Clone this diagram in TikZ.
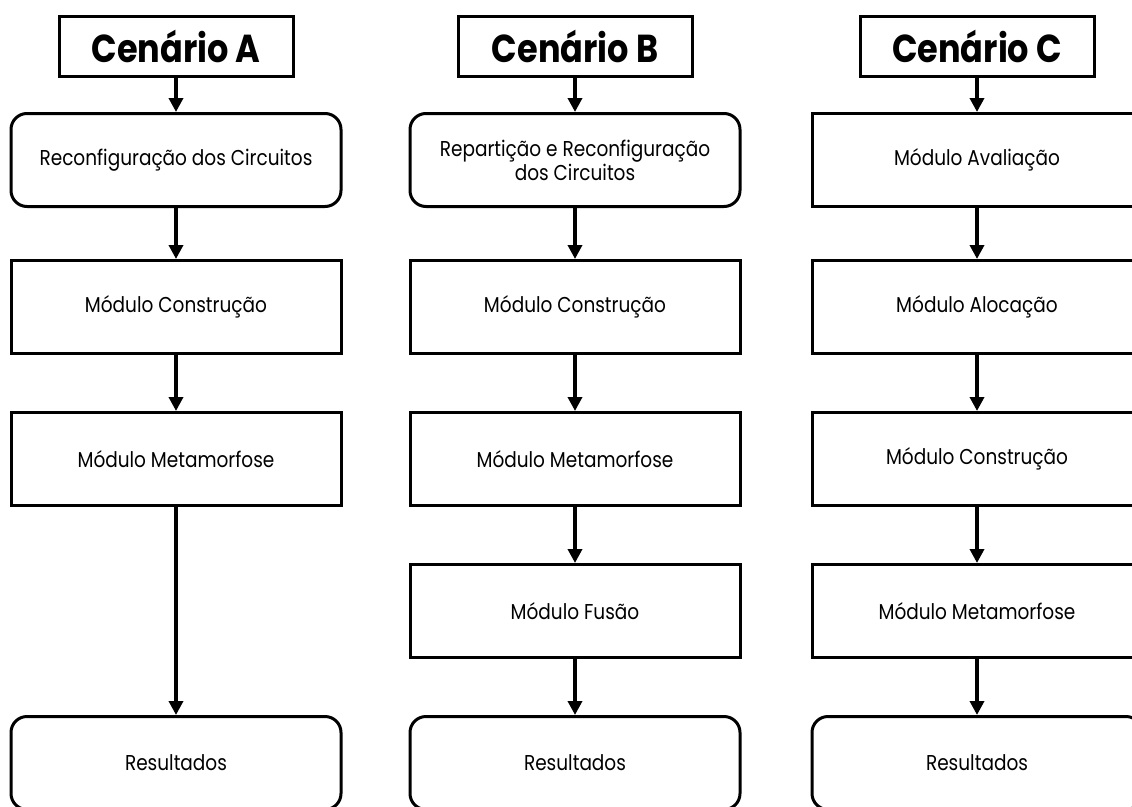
\documentclass[tikz,border=0pt]{standalone}
\usepackage{fontspec}
\setmainfont{Poppins}[FakeStretch=0.86]
\usetikzlibrary{positioning, arrows.meta}

\begin{document}
\begin{tikzpicture}[x=1pt, y=1pt, line width=3pt, node distance=56pt,
  cenario/.style={draw, minimum width=234pt, minimum height=60pt, inner sep=0pt,
    font=\fontsize{39}{44}\selectfont\bfseries},
  modulo/.style={draw, minimum width=330pt, minimum height=93pt, inner sep=0pt,
    align=center, font=\fontsize{21.5}{24}\selectfont},
  etapa/.style={modulo, rounded corners=16pt},
  seta/.style={-{Triangle[length=14pt, width=14pt]}, line width=4.5pt}]
  \useasboundingbox[fill=white] (0,0) rectangle (1132,-806);
  \clip (0,0) rectangle (1132,-806);

  % Cenario A
  \node[cenario] (titA) at (176,-46.5) {Cenário A};
  \node[etapa, below=34pt of titA] (reconfA) {Reconfiguração dos Circuitos};
  \node[modulo, below=51pt of reconfA] (constrA) {Módulo Construção};
  \node[modulo, below=of constrA] (metaA) {Módulo Metamorfose};
  \node[etapa, below=208pt of metaA] (resA) {Resultados};
  \draw[seta] (titA) -- (reconfA);
  \draw[seta] (reconfA) -- (constrA);
  \draw[seta] (constrA) -- (metaA);
  \draw[seta] (metaA) -- (resA);

  % Cenario B
  \node[cenario] (titB) at (575,-46.5) {Cenário B};
  \node[etapa, below=34pt of titB] (reconfB) {Repartição e Reconfiguração\\dos Circuitos};
  \node[modulo, below=51pt of reconfB] (constrB) {Módulo Construção};
  \node[modulo, below=of constrB] (metaB) {Módulo Metamorfose};
  \node[modulo, below=of metaB] (fusaoB) {Módulo Fusão};
  \node[etapa, below=of fusaoB] (resB) {Resultados};
  \draw[seta] (titB) -- (reconfB);
  \draw[seta] (reconfB) -- (constrB);
  \draw[seta] (constrB) -- (metaB);
  \draw[seta] (metaB) -- (fusaoB);
  \draw[seta] (fusaoB) -- (resB);

  % Cenario C
  \node[cenario] (titC) at (977,-46.5) {Cenário C};
  \node[modulo, below=34pt of titC] (avalC) {Módulo Avaliação};
  \node[modulo, below=51pt of avalC] (alocC) {Módulo Alocação};
  \node[modulo, below=of alocC] (constrC) {Módulo Construção};
  \node[modulo, below=of constrC] (metaC) {Módulo Metamorfose};
  \node[etapa, below=of metaC] (resC) {Resultados};
  \draw[seta] (titC) -- (avalC);
  \draw[seta] (avalC) -- (alocC);
  \draw[seta] (alocC) -- (constrC);
  \draw[seta] (constrC) -- (metaC);
  \draw[seta] (metaC) -- (resC);
\end{tikzpicture}
\end{document}
